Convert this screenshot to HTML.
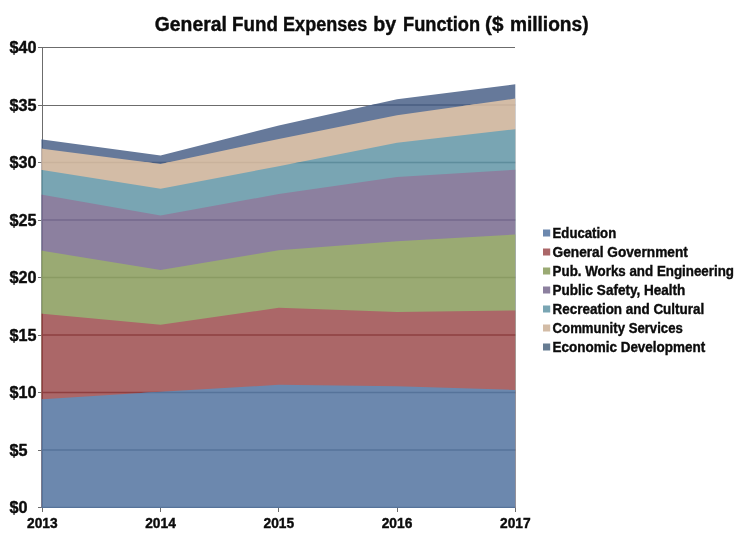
<!DOCTYPE html>
<html><head><meta charset="utf-8"><title>General Fund Expenses by Function</title>
<style>
html,body{margin:0;padding:0;background:#fff;}
body{width:752px;height:552px;overflow:hidden;}
svg{display:block;filter:blur(0.45px);}
text{font-family:"Liberation Sans",sans-serif;font-weight:bold;fill:#0c0c0c;stroke:#0c0c0c;stroke-width:0.4;}
</style></head><body>
<svg width="752" height="552" viewBox="0 0 752 552">
<rect width="752" height="552" fill="#fff"/>

<defs>
<clipPath id="c_edu"><polygon points="41.50,399.17 42.30,399.17 160.55,391.81 278.80,384.80 397.05,386.18 515.30,389.97 515.30,508.00 41.50,508.00"/></clipPath>
<clipPath id="c_gov"><polygon points="41.50,313.84 42.30,313.84 160.55,324.65 278.80,307.86 397.05,312.00 515.30,310.50 515.30,508.00 41.50,508.00"/></clipPath>
<clipPath id="c_pw"><polygon points="41.50,250.82 42.30,250.82 160.55,270.02 278.80,250.13 397.05,241.28 515.30,234.49 515.30,508.00 41.50,508.00"/></clipPath>
<clipPath id="c_ps"><polygon points="41.50,194.70 42.30,194.70 160.55,215.40 278.80,194.12 397.05,176.99 515.30,169.75 515.30,508.00 41.50,508.00"/></clipPath>
<clipPath id="c_rec"><polygon points="41.50,169.97 42.30,169.97 160.55,188.72 278.80,166.18 397.05,142.72 515.30,129.15 515.30,508.00 41.50,508.00"/></clipPath>
<clipPath id="c_cs"><polygon points="41.50,148.70 42.30,148.70 160.55,164.00 278.80,138.93 397.05,115.35 515.30,98.56 515.30,508.00 41.50,508.00"/></clipPath>
<clipPath id="c_ed"><polygon points="41.50,139.50 42.30,139.50 160.55,155.60 278.80,125.47 397.05,99.25 515.30,84.30 515.30,508.00 41.50,508.00"/></clipPath>
</defs>
<g stroke="#6c6c6c" stroke-width="1" shape-rendering="crispEdges">
<line x1="38.3" y1="450.0" x2="515.3" y2="450.0"/>
<line x1="38.3" y1="392.5" x2="515.3" y2="392.5"/>
<line x1="38.3" y1="335.0" x2="515.3" y2="335.0"/>
<line x1="38.3" y1="277.5" x2="515.3" y2="277.5"/>
<line x1="38.3" y1="220.0" x2="515.3" y2="220.0"/>
<line x1="38.3" y1="162.5" x2="515.3" y2="162.5"/>
<line x1="38.3" y1="105.0" x2="515.3" y2="105.0"/>
<line x1="38.3" y1="47.5" x2="515.3" y2="47.5"/>
<line x1="42.3" y1="47.5" x2="42.3" y2="511.5"/>
<line x1="38.3" y1="507.5" x2="515.3" y2="507.5"/>
<line x1="160.5" y1="507.5" x2="160.5" y2="511.5"/>
<line x1="278.8" y1="507.5" x2="278.8" y2="511.5"/>
<line x1="397.0" y1="507.5" x2="397.0" y2="511.5"/>
<line x1="515.0" y1="507.5" x2="515.0" y2="511.5"/>
</g>
<polygon points="41.50,139.50 42.30,139.50 160.55,155.60 278.80,125.47 397.05,99.25 515.30,84.30 515.30,508.00 41.50,508.00" fill="#66799A"/>
<g clip-path="url(#c_ed)" stroke="#4A5E80" stroke-width="1.3">
<line x1="41.5" y1="507.5" x2="515.3" y2="507.5"/>
<line x1="41.5" y1="450.0" x2="515.3" y2="450.0"/>
<line x1="41.5" y1="392.5" x2="515.3" y2="392.5"/>
<line x1="41.5" y1="335.0" x2="515.3" y2="335.0"/>
<line x1="41.5" y1="277.5" x2="515.3" y2="277.5"/>
<line x1="41.5" y1="220.0" x2="515.3" y2="220.0"/>
<line x1="41.5" y1="162.5" x2="515.3" y2="162.5"/>
<line x1="41.5" y1="105.0" x2="515.3" y2="105.0"/>
<line x1="42.3" y1="47.5" x2="42.3" y2="507.5"/>
</g>
<polygon points="41.50,148.70 42.30,148.70 160.55,164.00 278.80,138.93 397.05,115.35 515.30,98.56 515.30,508.00 41.50,508.00" fill="#D3BCA6"/>
<g clip-path="url(#c_cs)" stroke="#C9B29C" stroke-width="1.3">
<line x1="41.5" y1="507.5" x2="515.3" y2="507.5"/>
<line x1="41.5" y1="450.0" x2="515.3" y2="450.0"/>
<line x1="41.5" y1="392.5" x2="515.3" y2="392.5"/>
<line x1="41.5" y1="335.0" x2="515.3" y2="335.0"/>
<line x1="41.5" y1="277.5" x2="515.3" y2="277.5"/>
<line x1="41.5" y1="220.0" x2="515.3" y2="220.0"/>
<line x1="41.5" y1="162.5" x2="515.3" y2="162.5"/>
<line x1="41.5" y1="105.0" x2="515.3" y2="105.0"/>
<line x1="42.3" y1="47.5" x2="42.3" y2="507.5"/>
</g>
<polygon points="41.50,169.97 42.30,169.97 160.55,188.72 278.80,166.18 397.05,142.72 515.30,129.15 515.30,508.00 41.50,508.00" fill="#79A5B3"/>
<g clip-path="url(#c_rec)" stroke="#5E8D9C" stroke-width="1.3">
<line x1="41.5" y1="507.5" x2="515.3" y2="507.5"/>
<line x1="41.5" y1="450.0" x2="515.3" y2="450.0"/>
<line x1="41.5" y1="392.5" x2="515.3" y2="392.5"/>
<line x1="41.5" y1="335.0" x2="515.3" y2="335.0"/>
<line x1="41.5" y1="277.5" x2="515.3" y2="277.5"/>
<line x1="41.5" y1="220.0" x2="515.3" y2="220.0"/>
<line x1="41.5" y1="162.5" x2="515.3" y2="162.5"/>
<line x1="41.5" y1="105.0" x2="515.3" y2="105.0"/>
<line x1="42.3" y1="47.5" x2="42.3" y2="507.5"/>
</g>
<polygon points="41.50,194.70 42.30,194.70 160.55,215.40 278.80,194.12 397.05,176.99 515.30,169.75 515.30,508.00 41.50,508.00" fill="#8C809F"/>
<g clip-path="url(#c_ps)" stroke="#75688C" stroke-width="1.3">
<line x1="41.5" y1="507.5" x2="515.3" y2="507.5"/>
<line x1="41.5" y1="450.0" x2="515.3" y2="450.0"/>
<line x1="41.5" y1="392.5" x2="515.3" y2="392.5"/>
<line x1="41.5" y1="335.0" x2="515.3" y2="335.0"/>
<line x1="41.5" y1="277.5" x2="515.3" y2="277.5"/>
<line x1="41.5" y1="220.0" x2="515.3" y2="220.0"/>
<line x1="41.5" y1="162.5" x2="515.3" y2="162.5"/>
<line x1="41.5" y1="105.0" x2="515.3" y2="105.0"/>
<line x1="42.3" y1="47.5" x2="42.3" y2="507.5"/>
</g>
<polygon points="41.50,250.82 42.30,250.82 160.55,270.02 278.80,250.13 397.05,241.28 515.30,234.49 515.30,508.00 41.50,508.00" fill="#9AAA73"/>
<g clip-path="url(#c_pw)" stroke="#8A9B63" stroke-width="1.3">
<line x1="41.5" y1="507.5" x2="515.3" y2="507.5"/>
<line x1="41.5" y1="450.0" x2="515.3" y2="450.0"/>
<line x1="41.5" y1="392.5" x2="515.3" y2="392.5"/>
<line x1="41.5" y1="335.0" x2="515.3" y2="335.0"/>
<line x1="41.5" y1="277.5" x2="515.3" y2="277.5"/>
<line x1="41.5" y1="220.0" x2="515.3" y2="220.0"/>
<line x1="41.5" y1="162.5" x2="515.3" y2="162.5"/>
<line x1="41.5" y1="105.0" x2="515.3" y2="105.0"/>
<line x1="42.3" y1="47.5" x2="42.3" y2="507.5"/>
</g>
<polygon points="41.50,313.84 42.30,313.84 160.55,324.65 278.80,307.86 397.05,312.00 515.30,310.50 515.30,508.00 41.50,508.00" fill="#AB6768"/>
<g clip-path="url(#c_gov)" stroke="#8E3F40" stroke-width="1.3">
<line x1="41.5" y1="507.5" x2="515.3" y2="507.5"/>
<line x1="41.5" y1="450.0" x2="515.3" y2="450.0"/>
<line x1="41.5" y1="392.5" x2="515.3" y2="392.5"/>
<line x1="41.5" y1="335.0" x2="515.3" y2="335.0"/>
<line x1="41.5" y1="277.5" x2="515.3" y2="277.5"/>
<line x1="41.5" y1="220.0" x2="515.3" y2="220.0"/>
<line x1="41.5" y1="162.5" x2="515.3" y2="162.5"/>
<line x1="41.5" y1="105.0" x2="515.3" y2="105.0"/>
<line x1="42.3" y1="47.5" x2="42.3" y2="507.5"/>
</g>
<polygon points="41.50,399.17 42.30,399.17 160.55,391.81 278.80,384.80 397.05,386.18 515.30,389.97 515.30,508.00 41.50,508.00" fill="#6C88AE"/>
<g clip-path="url(#c_edu)" stroke="#56739A" stroke-width="1.3">
<line x1="41.5" y1="507.5" x2="515.3" y2="507.5"/>
<line x1="41.5" y1="450.0" x2="515.3" y2="450.0"/>
<line x1="41.5" y1="392.5" x2="515.3" y2="392.5"/>
<line x1="41.5" y1="335.0" x2="515.3" y2="335.0"/>
<line x1="41.5" y1="277.5" x2="515.3" y2="277.5"/>
<line x1="41.5" y1="220.0" x2="515.3" y2="220.0"/>
<line x1="41.5" y1="162.5" x2="515.3" y2="162.5"/>
<line x1="41.5" y1="105.0" x2="515.3" y2="105.0"/>
<line x1="42.3" y1="47.5" x2="42.3" y2="507.5"/>
</g>
<text x="9.6" y="513.4" font-size="16.2">$0</text>
<text x="9.6" y="455.9" font-size="16.2">$5</text>
<text x="9.6" y="398.4" font-size="16.2">$10</text>
<text x="9.6" y="340.9" font-size="16.2">$15</text>
<text x="9.6" y="283.4" font-size="16.2">$20</text>
<text x="9.6" y="225.9" font-size="16.2">$25</text>
<text x="9.6" y="168.4" font-size="16.2">$30</text>
<text x="9.6" y="110.9" font-size="16.2">$35</text>
<text x="9.6" y="53.4" font-size="16.2">$40</text>
<text x="27.0" y="528.3" font-size="14" textLength="30.6" lengthAdjust="spacingAndGlyphs">2013</text>
<text x="145.2" y="528.3" font-size="14" textLength="30.6" lengthAdjust="spacingAndGlyphs">2014</text>
<text x="263.5" y="528.3" font-size="14" textLength="30.6" lengthAdjust="spacingAndGlyphs">2015</text>
<text x="381.7" y="528.3" font-size="14" textLength="30.6" lengthAdjust="spacingAndGlyphs">2016</text>
<text x="500.0" y="528.3" font-size="14" textLength="30.6" lengthAdjust="spacingAndGlyphs">2017</text>
<text y="31.0" font-size="19.4"><tspan x="154.8" textLength="72.0" lengthAdjust="spacingAndGlyphs">General</tspan> <tspan x="232.1" textLength="45.8" lengthAdjust="spacingAndGlyphs">Fund</tspan> <tspan x="283.1" textLength="84.2" lengthAdjust="spacingAndGlyphs">Expenses</tspan> <tspan x="373.3" textLength="22.9" lengthAdjust="spacingAndGlyphs">by</tspan> <tspan x="403.0" textLength="77.1" lengthAdjust="spacingAndGlyphs">Function</tspan> <tspan x="485.0" textLength="18.4" lengthAdjust="spacingAndGlyphs">($</tspan> <tspan x="509.9" textLength="78.7" lengthAdjust="spacingAndGlyphs">millions)</tspan></text>
<rect x="543" y="229.5" width="7.2" height="7" fill="#6C88AE"/>
<text x="552.6" y="238.1" font-size="14.6" textLength="63.6" lengthAdjust="spacingAndGlyphs">Education</text>
<rect x="543" y="248.5" width="7.2" height="7" fill="#AB6768"/>
<text x="552.6" y="257.1" font-size="14.6" textLength="135.2" lengthAdjust="spacingAndGlyphs">General Government</text>
<rect x="543" y="267.5" width="7.2" height="7" fill="#9AAA73"/>
<text x="552.6" y="276.1" font-size="14.6" textLength="181.4" lengthAdjust="spacingAndGlyphs">Pub. Works and Engineering</text>
<rect x="543" y="286.5" width="7.2" height="7" fill="#8C809F"/>
<text x="552.6" y="295.1" font-size="14.6" textLength="132.6" lengthAdjust="spacingAndGlyphs">Public Safety, Health</text>
<rect x="543" y="305.5" width="7.2" height="7" fill="#79A5B3"/>
<text x="552.6" y="314.1" font-size="14.6" textLength="151.6" lengthAdjust="spacingAndGlyphs">Recreation and Cultural</text>
<rect x="543" y="324.5" width="7.2" height="7" fill="#D3BCA6"/>
<text x="552.6" y="333.1" font-size="14.6" textLength="130.2" lengthAdjust="spacingAndGlyphs">Community Services</text>
<rect x="543" y="343.5" width="7.2" height="7" fill="#667C92"/>
<text x="552.6" y="352.1" font-size="14.6" textLength="152.6" lengthAdjust="spacingAndGlyphs">Economic Development</text>
</svg></body></html>
